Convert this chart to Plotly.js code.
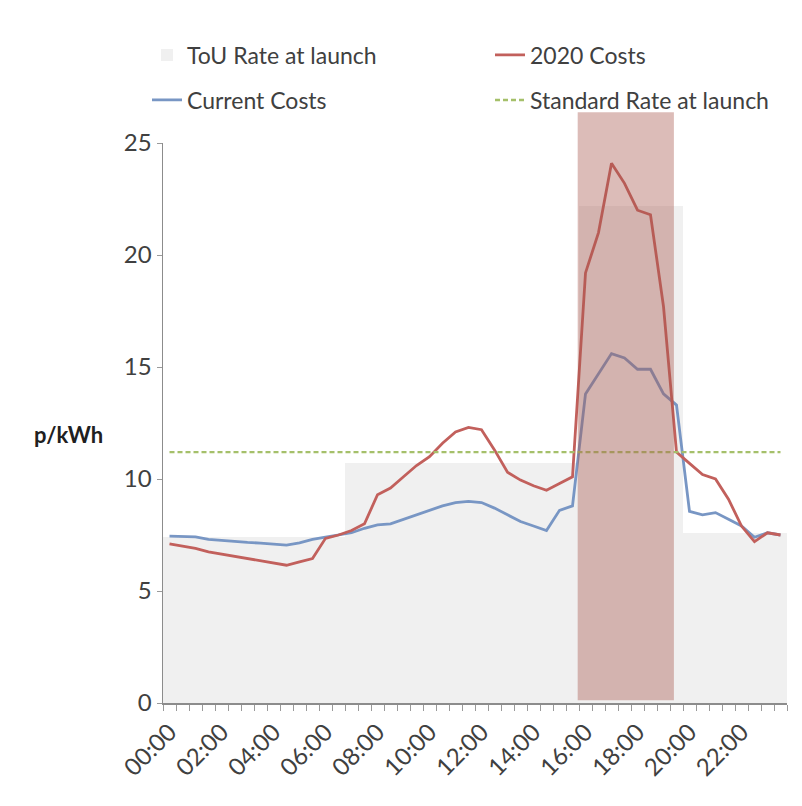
<!DOCTYPE html>
<html>
<head>
<meta charset="utf-8">
<script src="https://cdn.plot.ly/plotly-3.0.1.min.js"></script>
<style>
  html, body { margin: 0; padding: 0; background: #ffffff; }
  #chart { width: 802px; height: 806px; }
</style>
</head>
<body>
<div id="chart"></div>
<script>
// Half-hourly settlement periods across the day
const times = [
  "00:00","00:30","01:00","01:30","02:00","02:30","03:00","03:30",
  "04:00","04:30","05:00","05:30","06:00","06:30","07:00","07:30",
  "08:00","08:30","09:00","09:30","10:00","10:30","11:00","11:30",
  "12:00","12:30","13:00","13:30","14:00","14:30","15:00","15:30",
  "16:00","16:30","17:00","17:30","18:00","18:30","19:00","19:30",
  "20:00","20:30","21:00","21:30","22:00","22:30","23:00","23:30"
];

// Time-of-use tariff at launch (p/kWh)
const touRate = [
  7.4, 7.4, 7.4, 7.4, 7.4, 7.4, 7.4, 7.4, 7.4, 7.4, 7.4, 7.4, 7.4, 7.4,
  10.7, 10.7, 10.7, 10.7, 10.7, 10.7, 10.7, 10.7, 10.7, 10.7, 10.7, 10.7,
  10.7, 10.7, 10.7, 10.7, 10.7, 10.7,
  22.2, 22.2, 22.2, 22.2, 22.2, 22.2, 22.2, 22.2,
  7.6, 7.6, 7.6, 7.6, 7.6, 7.6, 7.6, 7.6
];

// Projected 2020 costs (p/kWh)
const costs2020 = [
  7.1, 7.0, 6.9, 6.75, 6.65, 6.55, 6.45, 6.35, 6.25, 6.15, 6.3, 6.45, 7.35, 7.5,
  7.7, 8.0, 9.3, 9.6, 10.1, 10.6, 11.0, 11.6, 12.1, 12.3, 12.2, 11.3, 10.3, 9.95,
  9.7, 9.5, 9.8, 10.1,
  19.2, 21.0, 24.1, 23.2, 22.0, 21.8, 17.7, 11.2,
  10.7, 10.2, 10.0, 9.1, 7.9, 7.2, 7.6, 7.5
];

// Current costs (p/kWh)
const currentCosts = [
  7.45, 7.43, 7.42, 7.3, 7.25, 7.2, 7.17, 7.14, 7.1, 7.05, 7.15, 7.3, 7.4, 7.5,
  7.6, 7.8, 7.95, 8.0, 8.2, 8.4, 8.6, 8.8, 8.95, 9.0, 8.95, 8.7, 8.4, 8.1,
  7.9, 7.7, 8.6, 8.8,
  13.8, 14.7, 15.6, 15.4, 14.9, 14.9, 13.8, 13.3,
  8.55, 8.4, 8.5, 8.2, 7.9, 7.4, 7.6, 7.5
];

// Flat standard rate at launch (p/kWh)
const standardRate = 11.2;

// Labelled ticks every two hours
const tickLabels = ["00:00","02:00","04:00","06:00","08:00","10:00",
                    "12:00","14:00","16:00","18:00","20:00","22:00"];

// Highlighted evening peak window (start / end period)
const peakWindow = ["16:00", "19:30"];

const idx = times.map((_, i) => i);
const tickPos = tickLabels.map(t => times.indexOf(t));
const fontFamily = "Lato, 'Open Sans', sans-serif";
const textColor = "#404040";

const traces = [
  {
    type: "bar", name: "ToU Rate at launch", x: idx, y: touRate,
    marker: { color: "#f0f0f0", line: { width: 0 } }, width: 1,
    legend: "legend", hoverinfo: "skip"
  },
  {
    type: "scatter", mode: "lines", name: "Current Costs", x: idx, y: currentCosts,
    line: { color: "#7896c4", width: 2.8 }, legend: "legend3"
  },
  {
    type: "scatter", mode: "lines", name: "2020 Costs", x: idx, y: costs2020,
    line: { color: "#c2605c", width: 2.8 }, legend: "legend2"
  },
  {
    type: "scatter", mode: "lines", name: "Standard Rate at launch",
    x: [idx[0], idx[idx.length - 1]], y: [standardRate, standardRate],
    line: { color: "#a5c06a", width: 2.4, dash: "5px,3px" }, legend: "legend4"
  }
];

// One legend box per entry, laid out as a 2 x 2 grid above the plot
function legendAt(xPx, yPx) {
  return {
    orientation: "h", xref: "container", yref: "container",
    xanchor: "left", yanchor: "middle", x: xPx / 802, y: 1 - yPx / 806,
    bgcolor: "rgba(0,0,0,0)",
    font: { family: fontFamily, size: 23, color: textColor }
  };
}

const layout = {
  width: 802, height: 806,
  margin: { l: 163, r: 15, t: 143, b: 103 },
  paper_bgcolor: "#ffffff", plot_bgcolor: "#ffffff",
  font: { family: fontFamily, size: 23, color: textColor },
  bargap: 0, showlegend: true,
  legend: legendAt(147, 55),
  legend2: legendAt(490, 55),
  legend3: legendAt(147, 100),
  legend4: legendAt(490, 100),
  xaxis: {
    type: "linear", range: [-0.5, times.length - 0.5],
    tickmode: "array", tickvals: tickPos, ticktext: tickLabels,
    tickangle: -45, ticks: "", showgrid: false, zeroline: false,
    ticklabelstandoff: 4,
    showline: true, linecolor: "#8c8c8c", linewidth: 1.5,
    minor: { ticks: "outside", ticklen: 6, tickcolor: "#9a9a9a", dtick: 1, tick0: -0.5, showgrid: false },
    tickfont: { family: fontFamily, size: 24, color: textColor }
  },
  yaxis: {
    range: [0, 25], tickmode: "array", tickvals: [0, 5, 10, 15, 20, 25],
    ticks: "outside", ticklen: 5, tickcolor: "#9a9a9a",
    showgrid: false, zeroline: false,
    showline: true, linecolor: "#8c8c8c", linewidth: 1.5,
    tickfont: { family: fontFamily, size: 24, color: textColor }
  },
  annotations: [
    {
      text: "<b>p/kWh</b>", xref: "paper", yref: "paper",
      x: -0.152, y: 0.48, xanchor: "center", yanchor: "middle", showarrow: false,
      font: { family: fontFamily, size: 22, color: "#202020" }
    }
  ],
  shapes: [
    {
      type: "rect", layer: "above", xref: "x", yref: "paper",
      x0: times.indexOf(peakWindow[0]) - 0.6, x1: times.indexOf(peakWindow[1]) - 0.2,
      y0: 0.005, y1: 1.055,
      fillcolor: "rgba(168,88,78,0.40)", line: { width: 0 }
    }
  ]
};

Plotly.newPlot("chart", traces, layout, { displayModeBar: false, staticPlot: true });
</script>
</body>
</html>
